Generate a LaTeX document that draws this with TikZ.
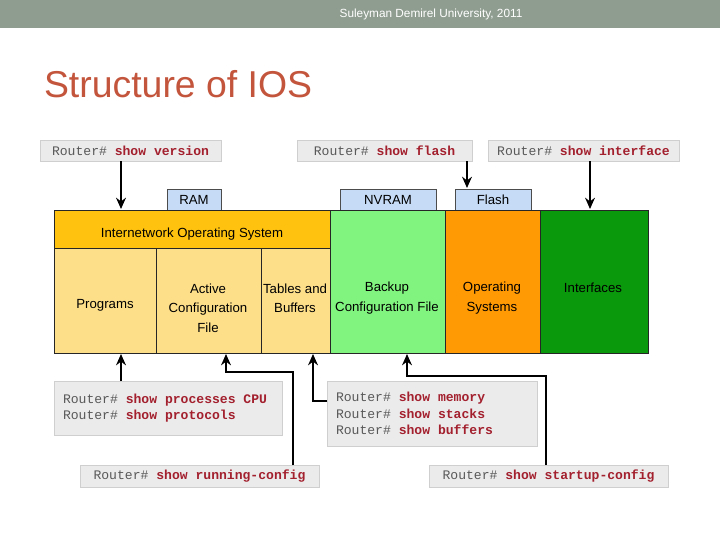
\documentclass[tikz,border=0pt]{standalone}
\usepackage{fontspec}
\setmainfont{Liberation Sans}
\setmonofont{Liberation Mono}
\usetikzlibrary{positioning, arrows.meta}

\definecolor{barGray}{HTML}{8F9D90}
\definecolor{titleRed}{HTML}{C4553D}
\definecolor{cmdRed}{HTML}{A3202E}
\definecolor{cmdFill}{HTML}{EBEBEB}
\definecolor{cmdLine}{HTML}{CFCFCF}
\definecolor{memBlue}{HTML}{C6DCF6}
\definecolor{iosGold}{HTML}{FFC20E}
\definecolor{ramYellow}{HTML}{FDDF8A}
\definecolor{nvGreen}{HTML}{80F47E}
\definecolor{flashOrange}{HTML}{FF9A05}
\definecolor{ifGreen}{HTML}{0A990C}

\newcommand{\rtr}{\textcolor{black!65}{Router\#}}
\newcommand{\cmd}[1]{\textcolor{cmdRed}{\textbf{#1}}}
\newcommand{\cmdline}[1]{\mbox{\spaceskip=0pt\xspaceskip=0pt\relax\rtr{} \cmd{#1}}}

\begin{document}
\begin{tikzpicture}[
    x=0.025cm, y=-0.025cm,
    every node/.style={outer sep=0pt},
    sz/.style 2 args={minimum width=#1*0.025cm, minimum height=#2*0.025cm},
    cmdbox/.style={draw=cmdLine, fill=cmdFill, anchor=north west, inner sep=0pt,
        font=\ttfamily\fontsize{9.3}{11.8}\selectfont},
    multibox/.style={cmdbox, align=left, inner xsep=9*0.025cm},
    membox/.style={draw=black!70, line width=0.5pt, fill=memBlue, anchor=north west,
        inner sep=0pt, font=\fontsize{9.4}{12}\selectfont},
    block/.style={draw=black!85, line width=0.6pt, anchor=north west, inner sep=0pt},
    lbl/.style={align=center, inner sep=0pt, font=\fontsize{9.4}{13.8}\selectfont},
    arr/.style={line width=1.7pt, -{Stealth[length=8pt, width=7pt]}}
]
   \useasboundingbox (0,0) rectangle (720,540);
   \fill[white] (0,0) rectangle (720,540);

   % header and title
   \fill[barGray] (0,0) rectangle (720,28);
   \node[text=white, font=\fontsize{8.4}{10}\selectfont] (uni) at (431,14)
        {Suleyman Demirel University, 2011};
   \node[anchor=base west, inner sep=0pt, text=titleRed,
         font=\fontsize{26.6}{30}\selectfont] (title) at (44,97) {Structure of IOS};

   % memory labels
   \node[membox, sz={54}{21}] (ram) at (167,189) {RAM};
   \node[membox, sz={96}{21}] (nvram) at (340,189) {NVRAM};
   \node[membox, sz={76}{21}] (flash) at (455,189) {Flash};

   % blocks
   \node[block, fill=iosGold, sz={276}{38}] (ios) at (54,210) {};
   \node[block, fill=ramYellow, sz={102}{105}] (prog) at (54,248) {};
   \node[block, fill=ramYellow, sz={105}{105}] (act) at (156,248) {};
   \node[block, fill=ramYellow, sz={69}{105}] (tab) at (261,248) {};
   \node[block, fill=nvGreen, sz={115}{143}] (bak) at (330,210) {};
   \node[block, fill=flashOrange, sz={95}{143}] (os) at (445,210) {};
   \node[block, fill=ifGreen, sz={108}{143}] (iface) at (540,210) {};

   % block texts
   \node[lbl] (iostxt) at (192,234) {Internetwork Operating System};
   \node[lbl] (progtxt) at (105,305) {Programs};
   \node[lbl] (acttxt) at (208,308) {Active\\Configuration\\File};
   \node[lbl] (tabtxt) at (295,298) {Tables and\\Buffers};
   \node[lbl] (baktxt) at (387,298) {Backup\\Configuration File};
   \node[lbl] (ostxt) at (492,298) {Operating\\Systems};
   \node[lbl] (ifacetxt) at (593,288) {Interfaces};

   % commands
   \node[cmdbox, sz={181}{21}] (ver) at (40,140) {\cmdline{show version}};
   \node[cmdbox, sz={175}{21}] (fls) at (297,140) {\cmdline{show flash}};
   \node[cmdbox, sz={191}{21}] (intf) at (488,140) {\cmdline{show interface}};
   \node[multibox, sz={228}{54}, text width=210*0.025cm] (proc) at (54,381)
        {\cmdline{show processes CPU}\\\cmdline{show protocols}};
   \node[multibox, sz={210}{65}, text width=192*0.025cm] (mem) at (327,381)
        {\cmdline{show memory}\\\cmdline{show stacks}\\\cmdline{show buffers}};
   \node[cmdbox, sz={239}{22}] (run) at (80,465) {\cmdline{show running-config}};
   \node[cmdbox, sz={239}{22}] (start) at (429,465) {\cmdline{show startup-config}};

   % arrow points
   \coordinate (verin) at (121,209);
   \coordinate (flsin) at (467,188);
   \coordinate (intfin) at (590,209);
   \coordinate (procin) at (121,354);
   \coordinate (runout) at (293,372);
   \coordinate (actin) at (226,354);
   \coordinate (memout) at (313,401);
   \coordinate (tabin) at (313,354);
   \coordinate (stout) at (546,376);
   \coordinate (bakin) at (407,354);

   % arrows
   \draw[arr] (ver.south -| verin) -- (verin);
   \draw[arr] (fls.south -| flsin) -- (flsin);
   \draw[arr] (intf.south -| intfin) -- (intfin);
   \draw[arr] (proc.north -| procin) -- (procin);
   \draw[arr] (run.north -| runout) -- (runout) -| (actin);
   \draw[arr] (mem.west |- memout) -- (memout) -- (tabin);
   \draw[arr] (start.north -| stout) -- (stout) -| (bakin);

\end{tikzpicture}
\end{document}
